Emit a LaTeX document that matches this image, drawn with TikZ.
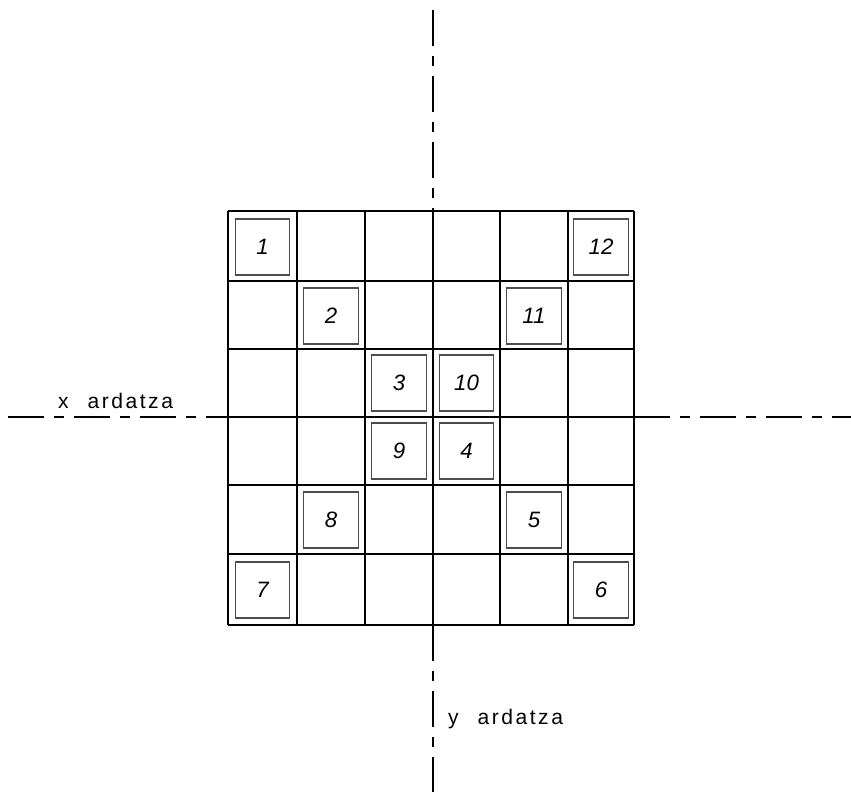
\documentclass[tikz,border=0pt]{standalone}
\usepackage{fontspec}
\setmainfont{Liberation Sans}
\newfontfamily\handfont[LetterSpace=12]{Liberation Sans}
\begin{document}
\begin{tikzpicture}[x=0.03cm,y=-0.03cm,
  gridline/.style={line width=1.4pt,black},
  axisline/.style={line width=1.5pt,black,dash pattern=on 30.7pt off 8.5pt on 8.5pt off 8.5pt},
  markbox/.style={draw=black!70,line width=0.9pt,minimum width=1.64cm,minimum height=1.68cm,inner sep=0pt,font=\fontsize{19}{19}\selectfont\itshape},
  axislabel/.style={font=\handfont\fontsize{18}{18}\selectfont,anchor=base west,inner sep=0pt}]
\useasboundingbox (0,0) rectangle (851,794);
% axes (outside the grid; inside they coincide with grid lines)
\coordinate (vtop) at (433,10);
\coordinate (vtopend) at (433,211);
\coordinate (vbotstart) at (433,625);
\coordinate (vbot) at (433,792);
\coordinate (hleft) at (8,417);
\coordinate (hleftend) at (228,417);
\coordinate (hrightstart) at (634,417);
\coordinate (hright) at (851,417);
\draw[axisline] (vtop) -- (vtopend);
\draw[axisline] (vbotstart) -- (vbot);
\draw[axisline] (hleft) -- (hleftend);
\draw[axisline] (hrightstart) -- (hright);
% grid
\foreach \gx in {228,297,365,433,500,568,634}
  \draw[gridline] (\gx,211) -- (\gx,625);
\foreach \gy in {211,281,349,417,485,554,625}
  \draw[gridline] (228,\gy) -- (634,\gy);
% marked cells: number / centre x / centre y
\foreach \n/\cx/\cy in {1/262.5/247,2/331/316,3/399/383,10/466.5/383,9/399/451,4/466.5/451,8/331/520,5/534/520,7/262.5/590,6/601/590,11/534/316,12/601/247} {
  \node[markbox] (m\n) at (\cx,\cy) {\n};
}
\node[axislabel] (xlab) at (58,408) {x\hspace{16pt}ardatza};
\node[axislabel] (ylab) at (448,724) {y\hspace{16pt}ardatza};
\end{tikzpicture}
\end{document}
